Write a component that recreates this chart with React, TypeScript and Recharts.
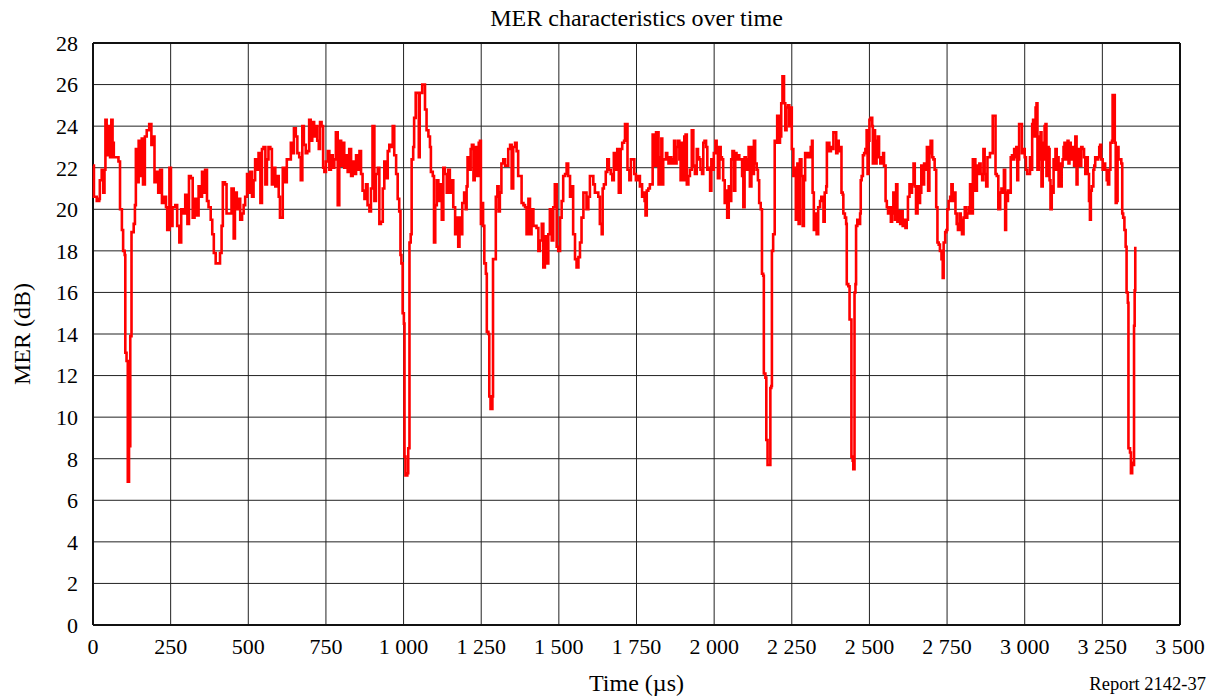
import { CartesianGrid, Line, LineChart, ReferenceLine, XAxis, YAxis } from "recharts";

// MER readings [time µs, MER dB], split at the fades
const run0to600: [number, number][] = [
  [0, 22.1], [3, 20.6], [12, 20.4], [20, 20.5], [22, 21.4], [28, 21.9], [33, 20.8], [37, 21.9], [40, 24.3], [44, 22.6],
  [49, 24.0], [55, 22.5], [59, 24.3], [63, 23.2], [67, 22.5], [76, 22.5], [82, 22.3], [87, 20.0], [93, 19.0], [97, 18.0],
  [102, 17.8], [104, 13.1], [108, 12.7], [112, 6.9], [116, 8.6], [120, 13.9], [124, 18.9], [131, 19.3], [135, 20.2], [138, 22.9],
  [143, 21.3], [147, 23.3], [151, 21.6], [157, 23.4], [161, 21.2], [167, 23.5], [173, 23.8], [181, 24.1], [188, 23.1], [194, 23.5],
  [198, 21.3], [205, 21.8], [210, 20.8], [216, 21.9], [222, 20.3], [229, 20.6], [235, 20.1], [239, 19.0], [246, 22.0], [251, 19.2],
  [256, 20.1], [265, 20.2], [271, 19.2], [278, 18.4], [284, 20.0], [291, 19.8], [297, 20.7], [304, 19.3], [309, 21.6], [315, 21.5],
  [321, 19.6], [327, 20.5], [334, 19.7], [340, 21.1], [345, 20.6], [351, 21.8], [356, 20.8], [361, 21.9], [367, 20.4], [372, 20.1],
  [379, 19.5], [384, 18.8], [389, 17.9], [395, 17.4], [402, 17.4], [409, 17.9], [414, 19.2], [418, 21.3], [425, 21.2], [430, 19.8],
  [439, 19.8], [446, 21.0], [453, 18.6], [457, 20.8], [463, 20.0], [469, 20.5], [474, 19.5], [480, 19.8], [485, 20.2], [490, 20.6],
  [496, 21.7], [501, 20.8], [506, 21.8], [512, 20.6], [517, 21.4], [522, 22.4], [528, 21.9], [533, 22.7], [539, 20.3], [544, 22.9],
  [549, 23.0], [555, 21.2], [560, 22.4], [565, 23.0], [571, 22.9], [576, 21.2], [582, 22.0], [587, 21.1], [592, 21.6], [598, 20.6],
];

const run600to1180: [number, number][] = [
  [602, 19.6], [611, 22.0], [618, 21.3], [624, 22.4], [631, 22.4], [637, 23.2], [642, 22.7], [647, 23.9], [653, 23.5], [658, 22.7],
  [664, 22.5], [669, 21.4], [674, 24.0], [679, 23.1], [685, 22.7], [690, 22.8], [696, 24.3], [701, 23.3], [706, 24.2], [712, 23.5],
  [717, 24.0], [722, 23.3], [727, 22.9], [731, 24.2], [736, 24.0], [741, 22.0], [745, 21.8], [750, 22.3], [756, 22.8], [761, 21.9],
  [766, 22.6], [772, 22.0], [777, 22.4], [782, 23.7], [788, 20.2], [793, 23.3], [799, 22.1], [804, 23.2], [809, 22.0], [815, 22.6],
  [820, 21.8], [825, 22.9], [831, 21.6], [836, 22.3], [841, 21.7], [847, 22.6], [852, 21.9], [858, 22.8], [863, 21.7], [868, 20.9],
  [874, 20.5], [879, 21.2], [884, 20.2], [890, 19.9], [895, 21.0], [900, 24.0], [906, 20.4], [911, 21.7], [917, 22.0], [922, 19.3],
  [927, 19.4], [933, 21.0], [938, 22.3], [943, 21.5], [949, 22.8], [954, 23.1], [959, 23.0], [965, 24.0], [970, 22.6], [976, 21.7],
  [981, 20.5], [986, 19.9], [990, 17.8], [993, 17.4], [997, 15.0], [1001, 14.5], [1003, 8.1], [1006, 7.2], [1012, 7.3], [1015, 8.5],
  [1019, 18.4], [1023, 18.8], [1026, 22.4], [1031, 23.0], [1034, 24.4], [1039, 25.6], [1044, 25.6], [1049, 22.5], [1052, 25.6], [1056, 25.6],
  [1060, 26.0], [1066, 26.0], [1069, 24.8], [1074, 23.8], [1080, 23.5], [1085, 23.0], [1088, 21.8], [1094, 21.6], [1098, 18.4], [1102, 20.2],
  [1107, 21.4], [1112, 20.4], [1117, 21.2], [1123, 19.5], [1128, 22.0], [1133, 21.7], [1139, 20.8], [1144, 21.9], [1149, 20.8], [1155, 21.4],
  [1160, 20.1], [1166, 18.8], [1171, 19.6], [1176, 18.2],
];

const run1180to1760: [number, number][] = [
  [1180, 19.6], [1185, 18.8], [1189, 20.3], [1195, 20.8], [1200, 20.0], [1203, 21.1], [1206, 22.5], [1212, 21.9], [1216, 22.9], [1220, 23.1],
  [1225, 21.4], [1229, 22.5], [1233, 23.0], [1237, 21.6], [1242, 23.2], [1246, 23.3], [1249, 19.3], [1252, 20.3], [1256, 19.2], [1260, 17.4],
  [1265, 16.9], [1268, 14.1], [1273, 14.0], [1276, 11.0], [1280, 10.4], [1286, 11.0], [1288, 17.6], [1292, 17.6], [1297, 20.6], [1302, 21.1],
  [1306, 19.9], [1310, 20.8], [1315, 22.2], [1321, 22.4], [1327, 22.1], [1332, 22.1], [1337, 22.9], [1343, 23.1], [1348, 21.0], [1353, 23.0],
  [1359, 23.2], [1364, 22.8], [1369, 21.6], [1375, 21.6], [1380, 20.3], [1386, 20.2], [1391, 20.1], [1396, 18.8], [1402, 20.5], [1407, 18.8],
  [1412, 20.0], [1418, 19.2], [1423, 19.2], [1428, 19.1], [1434, 18.0], [1439, 18.5], [1445, 19.3], [1450, 17.2], [1455, 18.7], [1461, 17.4],
  [1466, 18.8], [1471, 20.0], [1477, 18.5], [1482, 20.1], [1487, 21.2], [1493, 18.2], [1498, 18.0], [1504, 19.6], [1509, 20.4], [1514, 21.6],
  [1520, 21.7], [1525, 22.2], [1530, 21.6], [1536, 20.6], [1541, 21.1], [1546, 18.8], [1552, 17.6], [1557, 17.2], [1563, 17.7], [1568, 18.4],
  [1573, 19.6], [1579, 20.8], [1584, 20.8], [1589, 20.0], [1595, 20.6], [1600, 21.6], [1605, 21.6], [1611, 21.2], [1616, 20.8], [1622, 20.8],
  [1627, 20.6], [1632, 19.3], [1638, 18.8], [1641, 21.0], [1645, 21.2], [1651, 21.8], [1656, 22.4], [1661, 21.9], [1667, 21.7], [1672, 21.4],
  [1677, 22.7], [1683, 21.9], [1688, 22.9], [1693, 20.8], [1699, 22.9], [1704, 23.2], [1710, 23.3], [1713, 24.1], [1718, 24.1], [1721, 21.9],
  [1727, 21.4], [1732, 22.4], [1738, 22.4], [1743, 21.7], [1748, 21.4], [1756, 21.6], [1761, 21.1],
];

const run1760to2340: [number, number][] = [
  [1765, 21.2], [1768, 20.6], [1772, 20.8], [1776, 20.4], [1779, 19.7], [1783, 20.9], [1788, 21.0], [1793, 21.2], [1799, 21.2], [1802, 23.6],
  [1806, 23.5], [1809, 22.1], [1813, 23.7], [1817, 23.7], [1821, 21.2], [1826, 22.5], [1830, 23.4], [1833, 21.2], [1836, 22.4], [1841, 22.4],
  [1845, 22.7], [1849, 22.5], [1853, 22.2], [1858, 22.5], [1862, 22.4], [1866, 22.2], [1871, 23.3], [1875, 22.2], [1879, 23.0], [1884, 23.3],
  [1888, 22.4], [1892, 21.4], [1896, 23.2], [1901, 21.4], [1904, 23.5], [1908, 23.6], [1912, 21.2], [1917, 21.6], [1922, 21.9], [1928, 23.8],
  [1933, 22.1], [1938, 21.7], [1944, 22.9], [1948, 22.5], [1952, 22.4], [1956, 21.9], [1961, 21.7], [1965, 23.2], [1969, 23.3], [1974, 23.0],
  [1978, 21.9], [1982, 22.0], [1987, 20.9], [1991, 22.4], [1995, 21.9], [1999, 22.7], [2004, 23.3], [2008, 23.0], [2012, 21.5], [2017, 23.0],
  [2021, 22.5], [2025, 22.4], [2029, 21.4], [2034, 20.3], [2038, 20.9], [2042, 19.6], [2047, 21.1], [2051, 20.4], [2055, 22.4], [2059, 22.8],
  [2064, 20.9], [2068, 22.7], [2072, 22.4], [2077, 22.6], [2081, 22.4], [2085, 22.4], [2090, 21.6], [2094, 20.1], [2098, 22.5], [2102, 21.9],
  [2107, 22.4], [2111, 23.0], [2115, 21.1], [2120, 23.0], [2124, 21.7], [2128, 23.3], [2132, 22.2], [2137, 21.9], [2141, 21.4], [2145, 20.3],
  [2150, 20.0], [2154, 16.9], [2158, 16.8], [2160, 12.1], [2165, 11.9], [2168, 8.9], [2172, 7.7], [2178, 7.7], [2181, 11.4], [2184, 11.5],
  [2186, 18.0], [2190, 18.8], [2195, 23.3], [2199, 23.2], [2203, 24.5], [2208, 23.2], [2212, 23.5], [2216, 25.1], [2220, 26.4], [2225, 25.1],
  [2229, 23.8], [2233, 24.9], [2238, 25.0], [2242, 24.0], [2246, 24.9], [2250, 22.9], [2255, 21.6], [2259, 22.0], [2263, 19.5], [2268, 22.2],
  [2272, 19.3], [2276, 22.4], [2281, 21.6], [2285, 19.2], [2289, 21.4], [2293, 22.7], [2298, 22.5], [2302, 22.7], [2306, 22.5], [2311, 23.0],
  [2315, 23.3], [2317, 20.8], [2321, 19.0], [2326, 19.8], [2330, 18.8], [2335, 20.1], [2341, 20.4],
];

const run2340to2920: [number, number][] = [
  [2345, 20.6], [2348, 20.6], [2352, 19.4], [2356, 20.8], [2361, 21.1], [2363, 23.2], [2367, 23.2], [2371, 22.8], [2376, 23.0], [2380, 22.9],
  [2384, 23.7], [2388, 23.7], [2393, 22.7], [2397, 23.3], [2401, 22.8], [2406, 23.0], [2410, 20.8], [2414, 20.7], [2416, 19.8], [2421, 19.6],
  [2425, 19.3], [2427, 16.4], [2432, 16.3], [2436, 14.7], [2440, 14.7], [2442, 8.1], [2446, 7.9], [2448, 7.5], [2452, 16.0], [2455, 16.4],
  [2457, 19.2], [2461, 19.5], [2466, 19.3], [2470, 19.8], [2472, 21.4], [2475, 21.6], [2479, 22.6], [2483, 22.7], [2487, 22.9], [2491, 23.8],
  [2494, 21.7], [2497, 23.3], [2500, 24.3], [2504, 24.4], [2509, 24.0], [2511, 22.2], [2514, 23.8], [2518, 22.2], [2523, 23.3], [2527, 23.5],
  [2531, 22.5], [2535, 22.2], [2540, 22.5], [2544, 22.7], [2547, 22.1], [2552, 20.4], [2556, 20.1], [2560, 19.8], [2564, 20.1], [2569, 19.4],
  [2573, 19.8], [2577, 20.8], [2582, 19.5], [2586, 21.2], [2590, 19.4], [2594, 19.9], [2599, 19.3], [2603, 19.9], [2607, 19.2], [2612, 19.5],
  [2616, 19.1], [2620, 19.5], [2624, 20.6], [2629, 21.2], [2633, 20.8], [2637, 21.2], [2642, 22.2], [2646, 21.1], [2650, 19.8], [2655, 21.1],
  [2659, 20.3], [2663, 20.8], [2667, 22.1], [2672, 21.2], [2676, 22.2], [2680, 21.9], [2685, 23.0], [2689, 20.9], [2693, 22.7], [2697, 23.3],
  [2702, 22.5], [2706, 22.4], [2710, 21.9], [2715, 20.1], [2719, 18.4], [2723, 18.3], [2727, 18.0], [2732, 17.6], [2736, 16.7], [2739, 18.4],
  [2744, 18.9], [2748, 19.0], [2751, 20.0], [2755, 20.4], [2760, 20.6], [2764, 21.2], [2768, 20.4], [2773, 20.8], [2777, 19.8], [2781, 19.3],
  [2785, 19.0], [2790, 19.8], [2794, 19.5], [2798, 18.8], [2803, 19.6], [2807, 20.1], [2811, 19.6], [2815, 19.8], [2820, 20.1], [2824, 21.2],
  [2828, 19.8], [2833, 22.4], [2837, 22.4], [2841, 20.9], [2846, 22.1], [2850, 21.7], [2854, 22.2], [2858, 21.7], [2863, 21.4], [2867, 22.9],
  [2871, 21.7], [2876, 21.1], [2880, 22.5], [2884, 22.5], [2888, 22.7], [2893, 22.7], [2897, 24.5], [2901, 24.5], [2906, 21.7], [2910, 21.6],
  [2915, 20.0], [2921, 20.8],
];

const run2920to3360: [number, number][] = [
  [2925, 21.0], [2927, 20.9], [2929, 20.8], [2933, 21.9], [2937, 19.0], [2940, 20.8], [2943, 20.4], [2946, 20.9], [2950, 20.8], [2955, 22.5],
  [2959, 22.6], [2963, 22.4], [2966, 22.9], [2970, 22.5], [2973, 23.0], [2976, 21.4], [2979, 22.4], [2982, 24.1], [2987, 24.1], [2991, 22.7],
  [2995, 22.9], [3000, 22.5], [3004, 21.9], [3008, 21.7], [3012, 21.7], [3017, 22.5], [3021, 21.9], [3024, 24.1], [3027, 24.3], [3032, 23.5],
  [3035, 24.9], [3038, 25.1], [3041, 21.9], [3045, 23.5], [3048, 22.4], [3051, 23.7], [3054, 21.1], [3058, 23.2], [3061, 22.4], [3064, 24.0],
  [3067, 24.1], [3070, 21.6], [3074, 23.0], [3077, 22.9], [3080, 21.4], [3083, 20.0], [3087, 21.1], [3090, 20.8], [3093, 22.4], [3096, 21.9],
  [3099, 22.9], [3103, 21.9], [3106, 22.5], [3109, 21.1], [3112, 22.2], [3115, 21.1], [3119, 22.1], [3122, 22.4], [3125, 23.0], [3128, 23.2],
  [3132, 22.4], [3135, 23.2], [3138, 23.3], [3141, 22.2], [3144, 23.2], [3148, 22.4], [3152, 23.0], [3156, 22.7], [3159, 22.1], [3163, 23.5],
  [3167, 21.2], [3170, 22.1], [3173, 22.9], [3178, 22.1], [3182, 23.0], [3186, 22.9], [3191, 22.5], [3195, 21.7], [3199, 22.5], [3203, 21.7],
  [3207, 20.4], [3210, 19.5], [3213, 20.9], [3216, 21.1], [3221, 21.9], [3224, 22.1], [3227, 22.5], [3231, 22.4], [3236, 22.5], [3240, 23.0],
  [3243, 23.1], [3246, 22.4], [3251, 21.9], [3255, 22.2], [3259, 21.9], [3264, 21.4], [3268, 21.2], [3272, 21.9], [3276, 23.2], [3281, 23.3],
  [3283, 25.5], [3287, 25.5], [3290, 23.2], [3293, 20.3], [3296, 20.4], [3299, 23.0], [3302, 22.4], [3306, 22.4], [3311, 22.2], [3314, 19.8],
  [3317, 19.6], [3321, 19.0], [3325, 18.2], [3328, 16.0], [3332, 15.5], [3334, 8.5], [3339, 8.3], [3342, 7.3], [3346, 7.8], [3349, 7.7],
  [3352, 14.4], [3354, 16.1], [3356, 18.2],
];

const xTicks = [0, 250, 500, 750, 1000, 1250, 1500, 1750, 2000, 2250, 2500, 2750, 3000, 3250, 3500];
const yTicks = [0, 2, 4, 6, 8, 10, 12, 14, 16, 18, 20, 22, 24, 26, 28];

const data = [...run0to600, ...run600to1180, ...run1180to1760, ...run1760to2340, ...run2340to2920, ...run2920to3360].map(
  ([time, mer]) => ({ time, mer })
);

const FONT = '"Liberation Serif", "Times New Roman", serif';

// 1 000 style thousands
function fmtTime(v: number) {
  if (v < 1000) return String(v);
  return `${Math.floor(v / 1000)} ${String(v % 1000).padStart(3, "0")}`;
}

export default function App() {
  const tick = { fontSize: 22, fill: "#000", fontFamily: FONT };
  return (
    <div style={{ position: "absolute", left: 0, top: 0, width: 1218, height: 698, background: "#fff", fontFamily: FONT }}>
      <div style={{ position: "absolute", left: 93, width: 1087, top: 5, textAlign: "center", fontSize: 24, lineHeight: "26px" }}>
        MER characteristics over time
      </div>
      <LineChart width={1218} height={698} data={data} margin={{ top: 43, right: 38, bottom: 43, left: 33 }}>
        <CartesianGrid stroke="#222" strokeWidth={1} />
        <XAxis
          dataKey="time"
          type="number"
          domain={[0, 3500]}
          ticks={xTicks}
          tickFormatter={fmtTime}
          tick={tick}
          tickLine={false}
          axisLine={false}
          tickSize={0}
          tickMargin={13}
          height={30}
          interval={0}
        />
        <YAxis
          type="number"
          domain={[0, 28]}
          ticks={yTicks}
          tick={tick}
          tickLine={false}
          axisLine={false}
          tickSize={0}
          tickMargin={15}
          width={60}
          interval={0}
        />
        <ReferenceLine x={0} stroke="#111" strokeWidth={2} />
        <ReferenceLine x={3500} stroke="#111" strokeWidth={2} />
        <ReferenceLine y={0} stroke="#111" strokeWidth={2} />
        <ReferenceLine y={28} stroke="#111" strokeWidth={2} />
        <Line
          type="stepAfter"
          dataKey="mer"
          stroke="#ff0000"
          strokeWidth={2.6}
          dot={false}
          isAnimationActive={false}
        />
      </LineChart>
      <div
        style={{
          position: "absolute",
          left: 22,
          top: 334,
          transform: "translate(-50%, -50%) rotate(-90deg)",
          whiteSpace: "nowrap",
          fontSize: 24,
          lineHeight: "26px",
        }}
      >
        MER (dB)
      </div>
      <div style={{ position: "absolute", left: 93, width: 1087, top: 670, textAlign: "center", fontSize: 24, lineHeight: "26px" }}>
        Time (µs)
      </div>
      <div style={{ position: "absolute", right: 12, top: 674, fontSize: 18.5, lineHeight: "20px" }}>Report 2142-37</div>
    </div>
  );
}
